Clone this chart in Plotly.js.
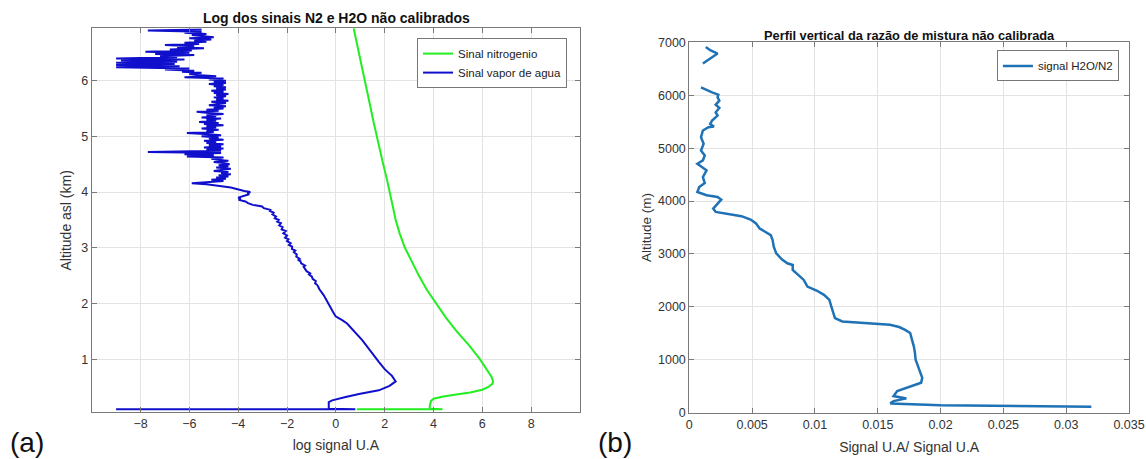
<!DOCTYPE html>
<html><head><meta charset="utf-8">
<script src="https://cdn.plot.ly/plotly-3.0.1.min.js"></script>
<style>html,body{margin:0;padding:0;background:#fff}#chart{width:1146px;height:459px}</style>
</head><body><div id="chart"></div>
<script>
// Panel (a): N2 signal (log)
const n2Log = [0.86, 4.37, 3.86, 3.84, 3.86, 3.9, 4.0, 4.4, 5.0, 5.5, 6.0, 6.25, 6.42, 6.44, 6.38, 6.2, 5.9, 5.45, 4.95, 4.5, 4.1, 3.72, 3.4, 3.1, 2.83, 2.62, 2.45, 2.33, 2.22, 2.08, 1.94, 1.8, 1.67, 1.55, 1.43, 1.31, 1.2, 1.08, 0.97, 0.85, 0.73];
const n2Alt = [0.10, 0.10, 0.11, 0.15, 0.2, 0.25, 0.29, 0.33, 0.37, 0.40, 0.45, 0.5, 0.56, 0.6, 0.68, 0.8, 1.0, 1.25, 1.5, 1.75, 2.0, 2.25, 2.5, 2.75, 3.0, 3.25, 3.5, 3.75, 4.0, 4.25, 4.5, 4.75, 5.0, 5.25, 5.5, 5.75, 6.0, 6.25, 6.5, 6.75, 6.94];
// Panel (a): H2O signal (log)
const h2oLog = [-9.0, 0.8, -0.29, -0.29, -0.15, 0.4, 1.0, 1.76, 2.2, 2.45, 2.3, 2.0, 1.76, 1.08, 0.46, 0.26,
  -0.01, -0.12, -0.22, -0.3, -0.42, -0.5, -0.6, -0.68, -0.72, -0.76, -0.85, -0.82, -0.95, -0.98, -1.1, -1.05, -1.2, -1.25, -1.32, -1.26, -1.42, -1.45, -1.55, -1.48, -1.62, -1.6, -1.72, -1.66, -1.8, -1.79, -1.92, -1.85, -2.0, -1.94, -2.08, -2.0, -2.15, -2.05, -2.22, -2.18, -2.32, -2.25, -2.4, -2.34, -2.5, -2.45, -2.6, -2.55, -2.7, -2.68, -2.95, -3.02, -3.4, -3.6, -3.7, -3.98,
  -3.9, -4.0, -3.85, -3.7, -3.55, -3.62, -3.5, -3.75, -3.9, -4.05, -4.3, -4.6, -4.9, -5.3, -5.9, -5.0, -4.6, -5.1, -4.5, -4.9, -4.4, -4.8, -4.3, -4.7, -4.4, -5.0, -4.5, -4.3, -4.9, -4.4, -4.8, -4.35, -4.6, -5.0, -4.4, -4.8, -5.1, -4.6, -6.1, -5.0, -6.2, -4.7, -7.7, -4.7, -5.3, -4.6, -5.4, -4.7, -5.2, -4.6, -5.3, -4.9, -5.4, -4.6, -5.2, -4.8, -5.5, -4.7, -5.2, -6.1, -5.0, -5.3, -4.8, -5.5, -4.9, -5.3, -4.6, -5.4, -4.8, -5.6, -4.9, -5.3, -4.7, -5.5, -4.9, -5.3, -4.6, -5.2, -5.7, -4.8, -5.3, -4.6, -5.0, -4.5, -5.2, -4.8, -4.5, -5.1, -4.4, -4.9, -4.6, -5.0, -4.5, -4.9, -4.4, -5.0, -4.6, -5.1, -4.5, -4.9, -4.5, -5.0, -4.6, -5.2, -4.5, -5.0, -4.5, -5.2, -4.6, -6.2, -4.9, -5.7, -6.0, -5.5, -6.3, -5.8, -7.0, -6.0, -9.0, -6.4, -9.0, -6.6, -9.0, -6.5, -8.8, -6.2, -9.0, -6.5, -7.2, -5.8, -7.4, -6.0, -7.8, -5.9, -6.8, -5.4, -6.5, -5.8, -7.0, -5.6, -6.2, -5.3, -5.8, -5.1, -6.0, -5.0, -5.5, -5.9, -5.3, -6.2, -5.5, -7.7, -5.5];
const h2oAlt = [0.10, 0.10, 0.11, 0.23, 0.26, 0.32, 0.38, 0.44, 0.52, 0.6, 0.7, 0.82, 0.95, 1.34, 1.64, 1.70,
  1.77, 1.85, 1.94, 2.00, 2.09, 2.15, 2.20, 2.26, 2.30, 2.33, 2.36, 2.40, 2.44, 2.48, 2.52, 2.54, 2.58, 2.62, 2.66, 2.68, 2.72, 2.76, 2.78, 2.80, 2.84, 2.88, 2.92, 2.95, 2.98, 3.02, 3.05, 3.08, 3.12, 3.15, 3.18, 3.22, 3.26, 3.30, 3.33, 3.37, 3.40, 3.44, 3.47, 3.50, 3.53, 3.56, 3.60, 3.63, 3.66, 3.68, 3.71, 3.74, 3.77, 3.80, 3.83, 3.86,
  3.88, 3.90, 3.92, 3.94, 3.96, 3.98, 4.00, 4.02, 4.04, 4.06, 4.08, 4.10, 4.12, 4.14, 4.16, 4.18, 4.20, 4.22, 4.24, 4.26, 4.28, 4.30, 4.32, 4.34, 4.36, 4.38, 4.40, 4.42, 4.44, 4.46, 4.48, 4.50, 4.52, 4.54, 4.56, 4.58, 4.60, 4.62, 4.64, 4.66, 4.68, 4.70, 4.72, 4.74, 4.76, 4.78, 4.80, 4.82, 4.84, 4.86, 4.88, 4.90, 4.92, 4.94, 4.96, 4.98, 5.00, 5.02, 5.04, 5.06, 5.08, 5.10, 5.12, 5.14, 5.16, 5.18, 5.20, 5.22, 5.24, 5.26, 5.28, 5.30, 5.32, 5.34, 5.36, 5.38, 5.40, 5.42, 5.44, 5.46, 5.48, 5.50, 5.52, 5.54, 5.56, 5.58, 5.60, 5.62, 5.64, 5.66, 5.68, 5.70, 5.72, 5.74, 5.76, 5.78, 5.80, 5.82, 5.84, 5.86, 5.88, 5.90, 5.92, 5.94, 5.96, 5.98, 6.00, 6.02, 6.04, 6.06, 6.08, 6.10, 6.12, 6.14, 6.16, 6.18, 6.20, 6.22, 6.24, 6.26, 6.28, 6.30, 6.32, 6.34, 6.36, 6.38, 6.40, 6.42, 6.44, 6.46, 6.48, 6.50, 6.52, 6.54, 6.56, 6.58, 6.60, 6.62, 6.64, 6.66, 6.68, 6.70, 6.72, 6.74, 6.76, 6.78, 6.80, 6.82, 6.84, 6.86, 6.88, 6.90, 6.92];
// Panel (b): mixing ratio H2O/N2 (null = gap)
const ratio = [0.0320, 0.0200, 0.0160, 0.01626, 0.01728, 0.01626, 0.01655, 0.01772, 0.01845, 0.01854, 0.01831, 0.01825, 0.01801, 0.01796, 0.01787, 0.01772, 0.01758, 0.01714, 0.0167, 0.01597, 0.01393, 0.01218, 0.01159, 0.01145, 0.0113, 0.01115, 0.01072, 0.01013, 0.0094, 0.00911, 0.00867, 0.00823, 0.00823, 0.0078, 0.00736, 0.00692, 0.00672, 0.00663, 0.00648, 0.00604, 0.0056, 0.00531, 0.00488, 0.00415, 0.00283, 0.0021, 0.0019, 0.0021, 0.00254, 0.00225, 0.00137, 0.00064, 0.00079, 0.00123, 0.00108, 0.00137, 0.00093, 0.00064, 0.00108, 0.00123, 0.00093, 0.00114, 0.00093, 0.00108, 0.00152, 0.00196, 0.00166, 0.00181, 0.00225, 0.0021, 0.00239, 0.0021, 0.00239, 0.00225, 0.00231, 0.00181, 0.00093, null, 0.00108, 0.0016, 0.00225, 0.00166, 0.00131];
const ratioAlt = [113, 140, 176, 220, 270, 314, 408, 502, 565, 659, 815, 878, 1004, 1129, 1255, 1380, 1506, 1568, 1619, 1662, 1694, 1725, 1788, 1882, 2007, 2133, 2227, 2309, 2384, 2509, 2603, 2698, 2792, 2823, 2898, 3011, 3137, 3262, 3356, 3419, 3482, 3576, 3651, 3714, 3764, 3795, 3858, 3908, 4027, 4078, 4109, 4172, 4266, 4341, 4454, 4580, 4655, 4705, 4768, 4862, 4956, 5082, 5207, 5333, 5395, 5408, 5458, 5521, 5615, 5678, 5759, 5822, 5897, 5960, 6010, 6054, 6148, 6400, 6600, 6681, 6788, 6851, 6913];

const axCommon = {showline:true, linecolor:'#7a7a7a', linewidth:1, mirror:'ticks', ticks:'inside', ticklen:5, tickcolor:'#7a7a7a',
  showgrid:true, gridcolor:'#e3e3e3', gridwidth:1, zeroline:false, tickfont:{family:'Liberation Sans, Arial', size:12.5, color:'#333'}};

const traces = [
  {x:n2Log, y:n2Alt, type:'scatter', mode:'lines', name:'Sinal nitrogenio', line:{color:'#22ee22', width:2}, xaxis:'x', yaxis:'y'},
  {x:h2oLog, y:h2oAlt, type:'scatter', mode:'lines', name:'Sinal vapor de agua', line:{color:'#1010cc', width:2}, xaxis:'x', yaxis:'y'},
  {x:ratio, y:ratioAlt, type:'scatter', mode:'lines', name:'signal H2O/N2', line:{color:'#1f72b5', width:2.5}, xaxis:'x2', yaxis:'y2', legend:'legend2'}
];

const layout = {
  width:1146, height:459, margin:{l:0,r:0,t:0,b:0}, paper_bgcolor:'#fff', plot_bgcolor:'#fff',
  font:{family:'Liberation Sans, Arial', color:'#333'},
  xaxis: Object.assign({}, axCommon, {domain:[0.0800, 0.5061], range:[-10,10], tickvals:[-8,-6,-4,-2,0,2,4,6,8], anchor:'y',
    title:{text:'log signal U.A', font:{size:14, color:'#333'}, standoff:9}}),
  yaxis: Object.assign({}, axCommon, {domain:[0.1017, 0.9383], range:[0.045, 6.94], tickvals:[1,2,3,4,5,6], anchor:'x',
    title:{text:'Altitude asl (km)', font:{size:14, color:'#333'}, standoff:6}}),
  xaxis2: Object.assign({}, axCommon, {domain:[0.6015, 0.9852], range:[0, 0.035], tickvals:[0,0.005,0.01,0.015,0.02,0.025,0.03,0.035], anchor:'y2',
    title:{text:'Signal U.A/ Signal U.A', font:{size:14, color:'#333'}, standoff:11}}),
  yaxis2: Object.assign({}, axCommon, {domain:[0.1009, 0.9078], range:[0, 7000], tickvals:[0,1000,2000,3000,4000,5000,6000,7000], anchor:'x2',
    title:{text:'Altitude (m)', font:{size:13.5, color:'#333'}, standoff:3}}),
  legend:{x:0.4948, xanchor:'right', y:0.917, yanchor:'top', bgcolor:'#fff', bordercolor:'#777', borderwidth:1,
    font:{size:11.5, color:'#222'}, tracegroupgap:0, itemwidth:30},
  legend2:{x:0.9764, xanchor:'right', y:0.89, yanchor:'top', bgcolor:'#fff', bordercolor:'#777', borderwidth:1,
    font:{size:11.5, color:'#222'}, itemwidth:30},
  showlegend:true,
  annotations:[
    {text:'<b>Log dos sinais N2 e H2O não calibrados</b>', xref:'paper', yref:'paper', x:336/1146, y:1-18/459, xanchor:'center', yanchor:'middle', showarrow:false, font:{size:14, color:'#111'}},
    {text:'<b>Perfil vertical da razão de mistura não calibrada</b>', xref:'paper', yref:'paper', x:909/1146, y:1-35/459, xanchor:'center', yanchor:'middle', showarrow:false, font:{size:12.8, color:'#111'}},
    {text:'(a)', xref:'paper', yref:'paper', x:27/1146, y:1-442/459, xanchor:'center', yanchor:'middle', showarrow:false, font:{size:28, color:'#111'}},
    {text:'(b)', xref:'paper', yref:'paper', x:615/1146, y:1-442/459, xanchor:'center', yanchor:'middle', showarrow:false, font:{size:28, color:'#111'}}
  ]
};
Plotly.newPlot('chart', traces, layout, {staticPlot:true, displayModeBar:false});
</script></body></html>
